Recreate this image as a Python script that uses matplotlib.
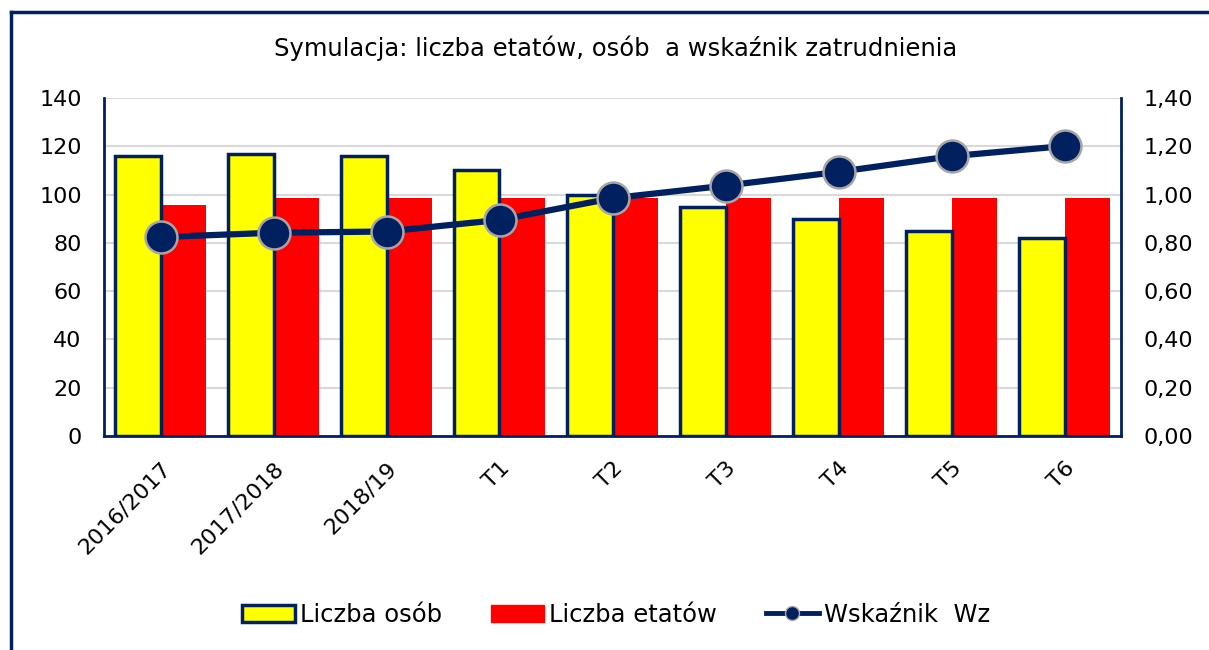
import matplotlib
matplotlib.use("Agg")
import matplotlib.pyplot as plt
from matplotlib.lines import Line2D
from matplotlib.patches import Patch
import numpy as np

categories = ["2016/2017", "2017/2018", "2018/19", "T1", "T2", "T3", "T4", "T5", "T6"]
liczba_osob = [116, 117, 116, 110, 100, 95, 90, 85, 82]
liczba_etatow = [95.5, 98.5, 98.5, 98.5, 98.5, 98.5, 98.5, 98.5, 98.5]
wskaznik_wz = [0.824, 0.842, 0.847, 0.895, 0.985, 1.037, 1.094, 1.159, 1.201]
left_ticks = [0, 20, 40, 60, 80, 100, 120, 140]
right_ticks = [0.0, 0.2, 0.4, 0.6, 0.8, 1.0, 1.2, 1.4]

NAVY = "#002060"
plt.rcParams['font.family'] = ['DejaVu Sans']

fig = plt.figure(figsize=(12.09, 6.5), dpi=100)
# outer frame (top and left lines)
fig.add_artist(Line2D([11/1209, 11/1209], [0, 1-12/650], color=NAVY, lw=2.5, transform=fig.transFigure))
fig.add_artist(Line2D([11/1209, 1], [1-12/650, 1-12/650], color=NAVY, lw=2.5, transform=fig.transFigure))

ax = fig.add_axes([104/1209, 1-436/650, (1121-104)/1209, (436-98)/650])
x = np.arange(len(categories))
w = 0.4
ax.bar(x - w/2, liczba_osob, width=w, color="#FFFF00", edgecolor=NAVY, linewidth=2.5, zorder=3, label="Liczba osób")
ax.bar(x + w/2, liczba_etatow, width=w, color="#FF0000", edgecolor="#FF0000", linewidth=0, zorder=2, label="Liczba etatów")
ax.set_xlim(-0.5, len(categories) - 0.5)
ax.set_ylim(0, 140)
ax.set_yticks(left_ticks)
ax.set_yticklabels([str(t) for t in left_ticks], fontsize=16)
ax.yaxis.grid(True, color="#D9D9D9", linewidth=1.5, zorder=0)
ax.set_axisbelow(True)
ax.tick_params(axis='y', length=0, pad=16)
ax.tick_params(axis='x', length=0, pad=16)
ax.set_xticks(x)
ax.set_xticklabels(categories, rotation=45, ha='right', va='top', rotation_mode='anchor', fontsize=16)
for s in ['left', 'right', 'bottom']:
    ax.spines[s].set_color(NAVY)
    ax.spines[s].set_linewidth(2)
ax.spines['top'].set_visible(False)

ax2 = ax.twinx()
ax2.plot(x, wskaznik_wz, color=NAVY, lw=4.5, marker='o', markersize=23,
         markerfacecolor=NAVY, markeredgecolor="#A6A6A6", markeredgewidth=1.8, zorder=5, label="Wskaźnik  Wz")
ax2.set_ylim(0, 1.4)
ax2.set_yticks(right_ticks)
ax2.set_yticklabels([f"{t:.2f}".replace('.', ',') for t in right_ticks], fontsize=16)
ax2.tick_params(axis='y', length=0, pad=16)
for s in ['left', 'right', 'bottom', 'top']:
    ax2.spines[s].set_visible(False)

fig.text(616/1209, 1-48/650, "Symulacja: liczba etatów, osób  a wskaźnik zatrudnienia",
         ha='center', va='center', fontsize=17.5)

handles = [
    Patch(facecolor="#FFFF00", edgecolor=NAVY, linewidth=2.5),
    Patch(facecolor="#FF0000", edgecolor="#FF0000"),
    Line2D([0], [0], color=NAVY, lw=3.5, marker='o', markersize=10,
           markerfacecolor=NAVY, markeredgecolor="#A6A6A6", markeredgewidth=1),
]
labels = ["Liczba osób", "Liczba etatów", "Wskaźnik  Wz"]
fig.legend(handles, labels, loc='center', bbox_to_anchor=(616/1209, 1-615/650), ncol=3,
           frameon=False, fontsize=17.5, handlelength=2.2, handletextpad=0.2, columnspacing=2.0)

fig.savefig("out.png", dpi=100)
